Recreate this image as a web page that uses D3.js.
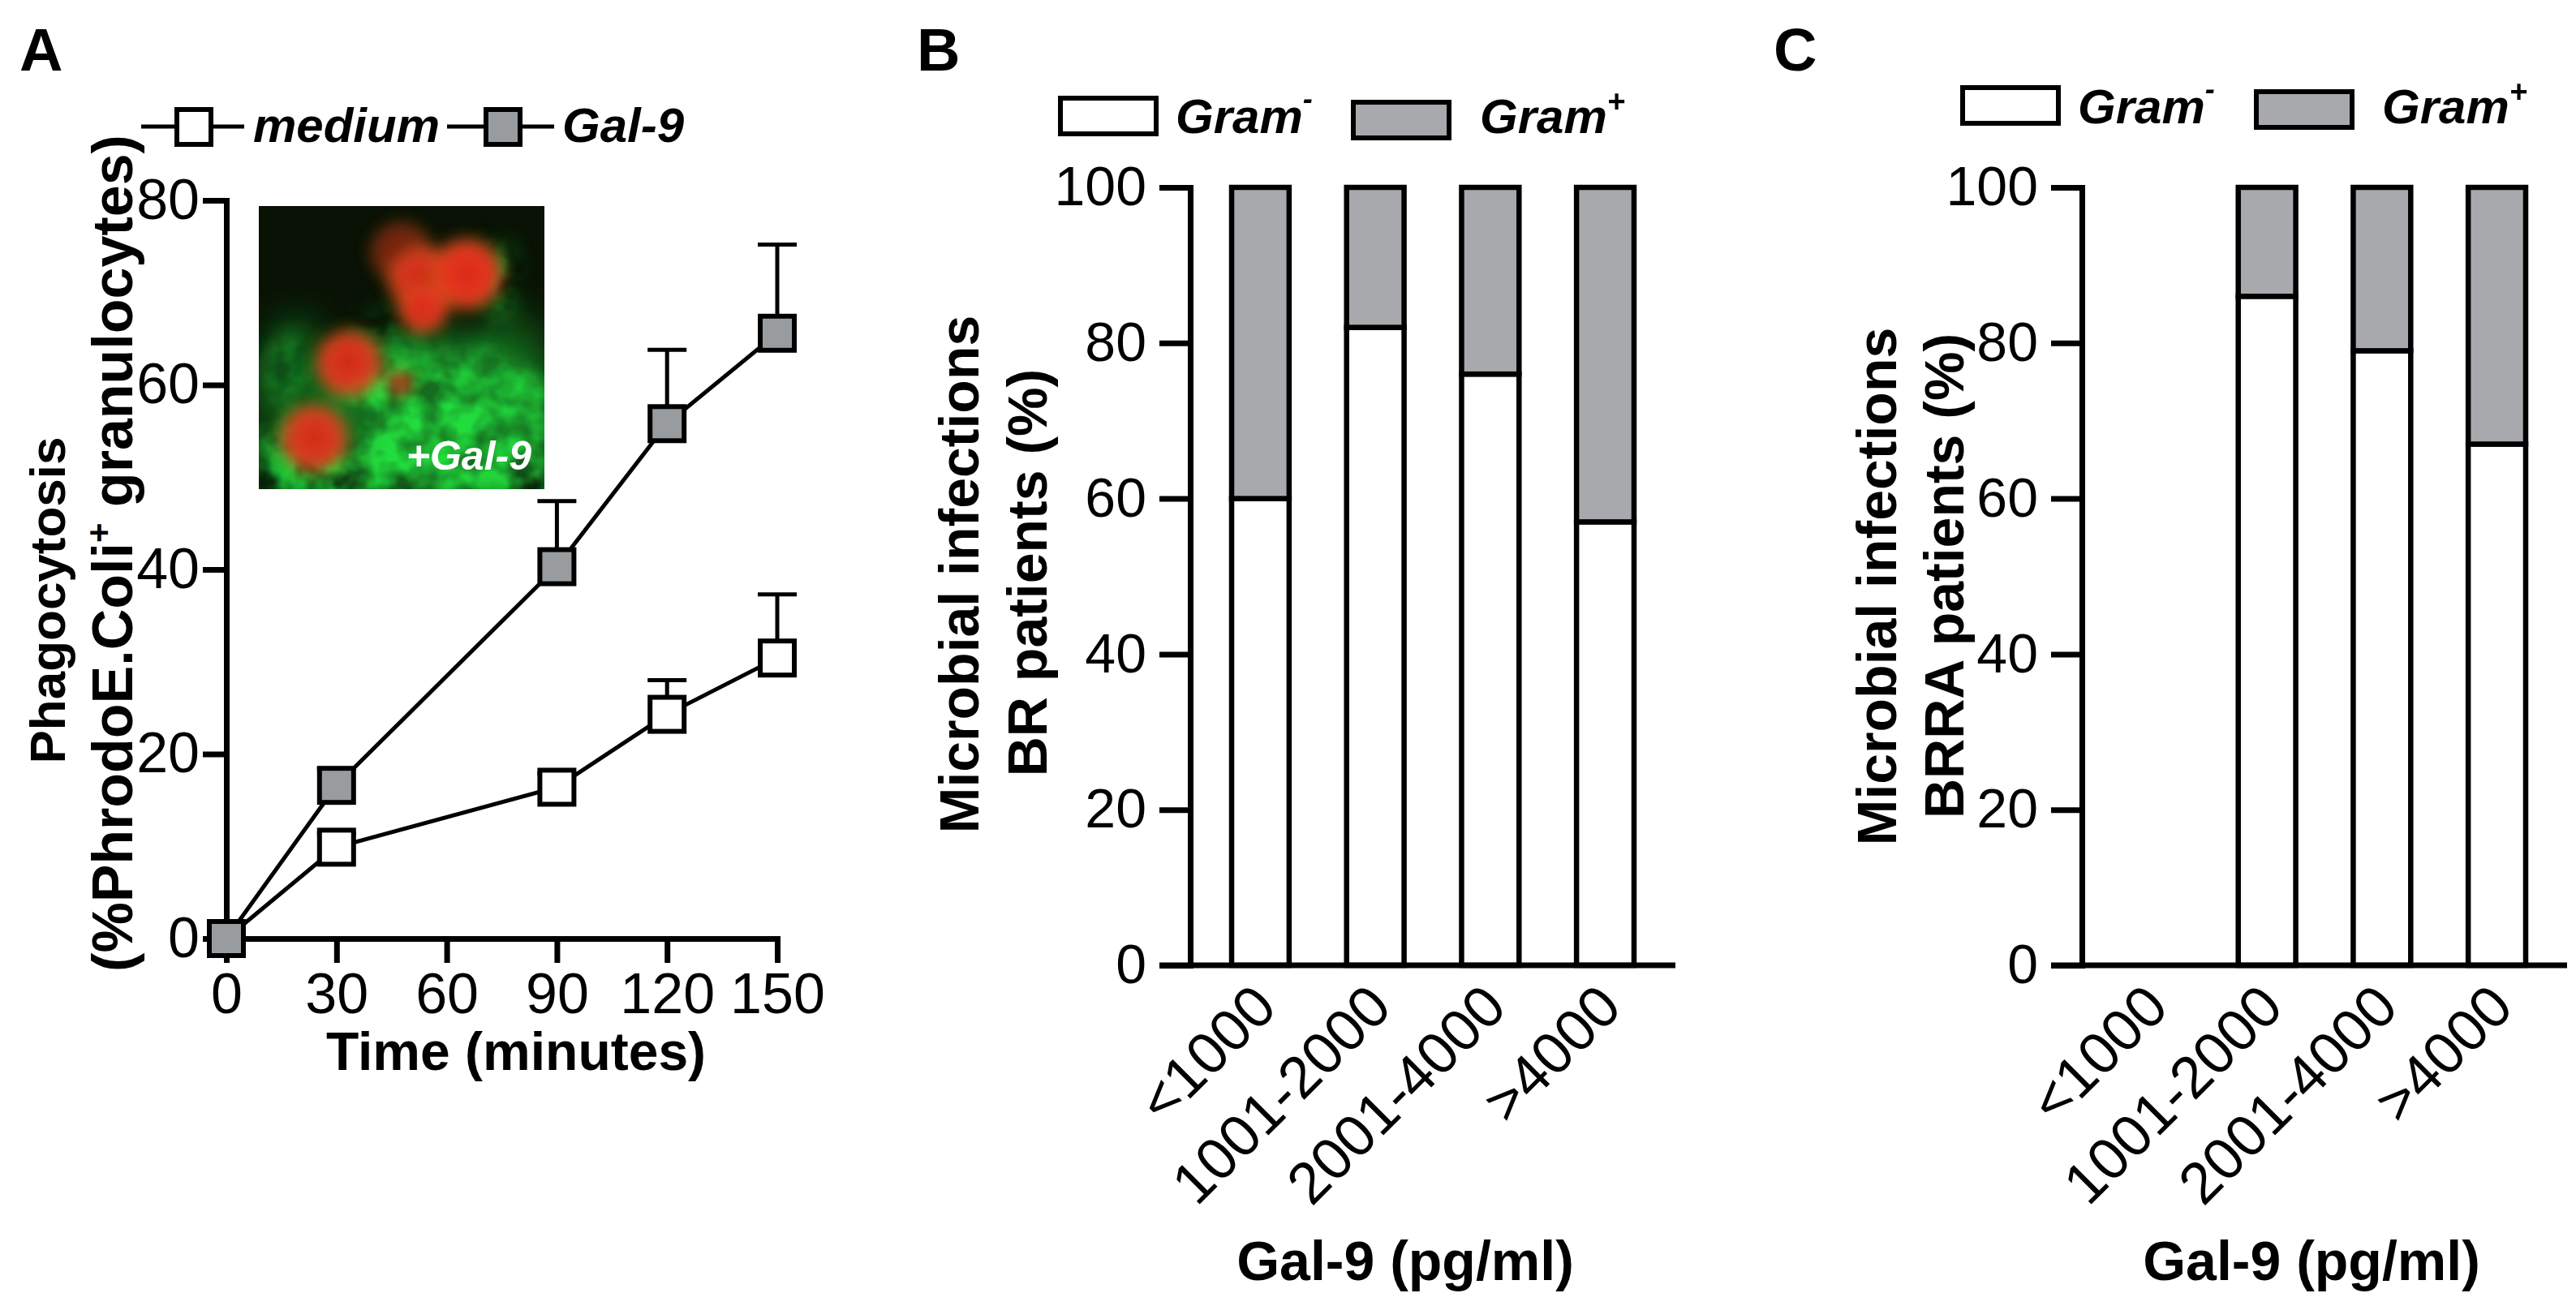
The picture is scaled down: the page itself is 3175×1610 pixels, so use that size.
<!DOCTYPE html>
<html>
<head>
<meta charset="utf-8">
<script src="https://cdn.jsdelivr.net/npm/d3@7"></script>
<style>
  html, body { margin: 0; padding: 0; background: #ffffff; }
  svg { display: block; }
</style>
</head>
<body>
<script>
// ---------------- DATA ----------------
const timePoints   = [0, 30, 90, 120, 150];
const timeTicks    = [0, 30, 60, 90, 120, 150];
const phagoTicks   = [0, 20, 40, 60, 80];
const mediumMean   = [0, 9.9, 16.4, 24.3, 30.4];
const mediumSem    = [0, 1.5, 1.5, 3.7, 6.9];
const gal9Mean     = [0, 16.6, 40.3, 55.8, 65.6];
const gal9Sem      = [0, 1.8, 7.1, 8.0, 9.6];

const gal9Groups   = ["<1000", "1001-2000", "2001-4000", ">4000"];
const pctTicks     = [0, 20, 40, 60, 80, 100];
const brGramNeg    = [60, 82, 76, 57];
const brGramPos    = [40, 18, 24, 43];
const brraGramNeg  = [0, 86, 79, 67];
const brraGramPos  = [0, 14, 21, 33];

// ---------------- SETUP ----------------
const FONT = "'Liberation Sans', Arial, Helvetica, sans-serif";
const GRAY_BAR = "#a7a9ac";
const GRAY_MARK = "#999c9f";
const W = 3175, H = 1610;

const svg = d3.select("body").append("svg")
  .attr("width", W).attr("height", H)
  .attr("viewBox", `0 0 ${W} ${H}`);
svg.append("rect").attr("width", W).attr("height", H).attr("fill", "#fff");

function styleAxis(g, fs) {
  g.select(".domain").attr("stroke", "#000").attr("stroke-width", 7).attr("stroke-linecap", "square");
  g.selectAll(".tick line").attr("stroke", "#000").attr("stroke-width", 7);
  g.selectAll(".tick text").attr("font-family", FONT).attr("font-size", fs).attr("fill", "#000");
}

function panelLabel(txt, x) {
  svg.append("text").attr("x", x).attr("y", 87)
    .attr("font-family", FONT).attr("font-weight", "bold").attr("font-size", 74)
    .text(txt);
}

// ---------------- PANEL A ----------------
panelLabel("A", 24);

const xA = d3.scaleLinear().domain([0, 150]).range([279, 958]);
const yA = d3.scaleLinear().domain([0, 80]).range([1157, 247]);

// inset micrograph (decorative)
const defs = svg.append("defs");
const IX = 319, IY = 254, IW = 352, IH = 349;
defs.append("clipPath").attr("id", "insetClip")
  .append("rect").attr("x", IX).attr("y", IY).attr("width", IW).attr("height", IH);

function region(f) {
  return f.attr("filterUnits", "userSpaceOnUse").attr("x", IX - 40).attr("y", IY - 40)
    .attr("width", IW + 80).attr("height", IH + 80);
}
const softBlur = region(defs.append("filter").attr("id", "softBlur"));
softBlur.append("feGaussianBlur").attr("stdDeviation", 22);

const mottle = region(defs.append("filter").attr("id", "mottle"));
mottle.append("feTurbulence").attr("type", "fractalNoise").attr("baseFrequency", 0.024)
  .attr("numOctaves", 3).attr("seed", 11).attr("result", "noise");
mottle.append("feColorMatrix").attr("in", "noise").attr("type", "matrix")
  .attr("values", "0 0 0 0 0  0 0 0 0 0  0 0 0 0 0  2.2 0 0 0 -0.55").attr("result", "mask");
mottle.append("feGaussianBlur").attr("in", "SourceGraphic").attr("stdDeviation", 16).attr("result", "blur");
mottle.append("feComposite").attr("in", "blur").attr("in2", "mask").attr("operator", "in");

const redBlur = region(defs.append("filter").attr("id", "redBlur"));
redBlur.append("feGaussianBlur").attr("stdDeviation", 9);

const rg = defs.append("radialGradient").attr("id", "redGrad");
rg.append("stop").attr("offset", "0%").attr("stop-color", "#d42818");
rg.append("stop").attr("offset", "60%").attr("stop-color", "#e8361c");
rg.append("stop").attr("offset", "85%").attr("stop-color", "#d84a1c").attr("stop-opacity", 0.85);
rg.append("stop").attr("offset", "100%").attr("stop-color", "#9a7a10").attr("stop-opacity", 0);

const inset = svg.append("g").attr("clip-path", "url(#insetClip)");
inset.append("rect").attr("x", IX).attr("y", IY).attr("width", IW).attr("height", IH).attr("fill", "#091205");
// soft green glow
const softGreen = [
  [545, 515, 150, 105, 0.55], [365, 490, 50, 100, 0.4], [635, 445, 45, 65, 0.3]
];
inset.append("g").attr("filter", "url(#softBlur)")
  .selectAll("ellipse").data(softGreen).join("ellipse")
  .attr("cx", d => d[0]).attr("cy", d => d[1]).attr("rx", d => d[2]).attr("ry", d => d[3])
  .attr("fill", "#1fb833").attr("opacity", d => d[4]);
// mottled bright green
const greenShapes = [
  [565, 525, 120, 90, 1], [490, 485, 65, 45, 1], [450, 590, 110, 38, 1],
  [612, 345, 14, 48, 0.9], [350, 565, 32, 50, 0.8], [648, 578, 38, 45, 1],
  [475, 410, 45, 20, 0.6], [352, 455, 22, 40, 0.55]
];
inset.append("g").attr("filter", "url(#mottle)")
  .selectAll("ellipse").data(greenShapes).join("ellipse")
  .attr("cx", d => d[0]).attr("cy", d => d[1]).attr("rx", d => d[2]).attr("ry", d => d[3])
  .attr("fill", "#22dc3e").attr("opacity", d => d[4]);
// red cells
const redShapes = [
  [495, 312, 42, 0.5], [520, 345, 46, 0.9], [575, 338, 48, 1], [522, 380, 34, 0.95],
  [430, 448, 45, 0.95], [493, 472, 17, 0.8], [387, 540, 46, 0.95]
];
inset.append("g").attr("filter", "url(#redBlur)")
  .selectAll("circle").data(redShapes).join("circle")
  .attr("cx", d => d[0]).attr("cy", d => d[1]).attr("r", d => d[2])
  .attr("fill", "url(#redGrad)").attr("opacity", d => d[3]);
svg.append("text").attr("x", 655).attr("y", 579).attr("text-anchor", "end")
  .attr("font-family", FONT).attr("font-weight", "bold").attr("font-style", "italic")
  .attr("font-size", 50).attr("fill", "#fff").text("+Gal-9");

// axes A
const gyA = svg.append("g").attr("transform", `translate(${xA(0)},0)`)
  .call(d3.axisLeft(yA).tickValues(phagoTicks).tickSize(29).tickSizeOuter(0).tickPadding(4));
styleAxis(gyA, 70);
const gxA = svg.append("g").attr("transform", `translate(0,${yA(0)})`)
  .call(d3.axisBottom(xA).tickValues(timeTicks).tickSize(30).tickSizeOuter(0).tickPadding(12));
styleAxis(gxA, 70);

// titles A
svg.append("text").attr("transform", `translate(${xA(0) + 357},1319)`).attr("text-anchor", "middle")
  .attr("font-family", FONT).attr("font-weight", "bold").attr("font-size", 66).text("Time (minutes)");
svg.append("text").attr("transform", "translate(80,740) rotate(-90)").attr("text-anchor", "middle")
  .attr("font-family", FONT).attr("font-weight", "bold").attr("font-size", 62).text("Phagocytosis");
const t2 = svg.append("text").attr("transform", "translate(163,682) rotate(-90)").attr("text-anchor", "middle")
  .attr("font-family", FONT).attr("font-weight", "bold").attr("font-size", 70);
t2.append("tspan").text("(%PhrodoE.Coli");
t2.append("tspan").attr("font-size", 42).attr("dy", -27).text("+");
t2.append("tspan").attr("dy", 27).text(" granulocytes)");

// series
const lineA = d3.line().x((d, i) => xA(timePoints[i])).y(d => yA(d));
const series = [
  { mean: mediumMean, sem: mediumSem, fill: "#ffffff" },
  { mean: gal9Mean, sem: gal9Sem, fill: GRAY_MARK }
];
series.forEach(s => {
  svg.append("path").attr("d", lineA(s.mean)).attr("fill", "none")
    .attr("stroke", "#000").attr("stroke-width", 5);
});
series.forEach(s => {
  const eb = svg.append("g");
  timePoints.forEach((t, i) => {
    if (!s.sem[i]) return;
    const x = xA(t), y0 = yA(s.mean[i]), y1 = yA(s.mean[i] + s.sem[i]);
    eb.append("line").attr("x1", x).attr("x2", x).attr("y1", y0).attr("y2", y1)
      .attr("stroke", "#000").attr("stroke-width", 5);
    eb.append("line").attr("x1", x - 24).attr("x2", x + 24).attr("y1", y1).attr("y2", y1)
      .attr("stroke", "#000").attr("stroke-width", 5);
  });
});
series.forEach(s => {
  svg.append("g").selectAll("rect").data(s.mean).join("rect")
    .attr("x", (d, i) => xA(timePoints[i]) - 21).attr("y", d => yA(d) - 21)
    .attr("width", 42).attr("height", 42)
    .attr("fill", s.fill).attr("stroke", "#000").attr("stroke-width", 6);
});

// legend A
const legA = svg.append("g");
[[174, 215], [263, 301], [551, 596], [644, 683]].forEach(seg => {
  legA.append("line").attr("x1", seg[0]).attr("x2", seg[1]).attr("y1", 156).attr("y2", 156)
    .attr("stroke", "#000").attr("stroke-width", 5);
});
legA.append("rect").attr("x", 218).attr("y", 135).attr("width", 42).attr("height", 43)
  .attr("fill", "#fff").attr("stroke", "#000").attr("stroke-width", 6);
legA.append("rect").attr("x", 599).attr("y", 135).attr("width", 42).attr("height", 43)
  .attr("fill", GRAY_MARK).attr("stroke", "#000").attr("stroke-width", 6);
legA.append("text").attr("x", 312).attr("y", 175).attr("font-family", FONT).attr("font-weight", "bold")
  .attr("font-style", "italic").attr("font-size", 60).text("medium");
legA.append("text").attr("x", 693).attr("y", 175).attr("font-family", FONT).attr("font-weight", "bold")
  .attr("font-style", "italic").attr("font-size", 60).text("Gal-9");

// ---------------- PANELS B & C ----------------
function barPanel(cfg) {
  panelLabel(cfg.label, cfg.labelX);
  const y = d3.scaleLinear().domain([0, 100]).range([1190, 231]);
  const x = d3.scaleBand().domain(gal9Groups).range([cfg.axisX, cfg.axisX + 598])
    .paddingInner(0.5).paddingOuter(0.36);
  const tick = 38;

  // bars
  const rows = gal9Groups.map((g, i) => ({ g, neg: cfg.neg[i], pos: cfg.pos[i] }))
    .filter(d => d.neg + d.pos > 0);
  const bars = svg.append("g");
  bars.selectAll("rect.neg").data(rows).join("rect").attr("class", "neg")
    .attr("x", d => x(d.g)).attr("width", x.bandwidth())
    .attr("y", d => y(d.neg)).attr("height", d => y(0) - y(d.neg))
    .attr("fill", "#fff").attr("stroke", "#000").attr("stroke-width", 6.5);
  bars.selectAll("rect.pos").data(rows).join("rect").attr("class", "pos")
    .attr("x", d => x(d.g)).attr("width", x.bandwidth())
    .attr("y", d => y(d.neg + d.pos)).attr("height", d => y(d.neg) - y(d.neg + d.pos))
    .attr("fill", GRAY_BAR).attr("stroke", "#000").attr("stroke-width", 6.5);

  // y axis
  const gy = svg.append("g").attr("transform", `translate(${cfg.axisX},0)`)
    .call(d3.axisLeft(y).tickValues(pctTicks).tickSize(tick).tickSizeOuter(0).tickPadding(16));
  styleAxis(gy, 68);
  // x axis baseline
  svg.append("line").attr("x1", cfg.axisX - tick).attr("x2", x.range()[1])
    .attr("y1", y(0)).attr("y2", y(0)).attr("stroke", "#000").attr("stroke-width", 7);
  // x labels
  svg.append("g").selectAll("text").data(gal9Groups).join("text")
    .attr("transform", d => `translate(${x(d) + x.bandwidth() / 2 + 23},${y(0) + 55}) rotate(-45)`)
    .attr("text-anchor", "end").attr("font-family", FONT).attr("font-size", 72).text(d => d);

  // titles
  svg.append("text").attr("x", cfg.xTitleX).attr("y", 1578).attr("text-anchor", "middle")
    .attr("font-family", FONT).attr("font-weight", "bold").attr("font-size", 68).text("Gal-9 (pg/ml)");
  svg.append("text").attr("transform", `translate(${cfg.yT1[0]},${cfg.yT1[1]}) rotate(-90)`)
    .attr("text-anchor", "middle").attr("font-family", FONT).attr("font-weight", "bold")
    .attr("font-size", 68).text("Microbial infections");
  svg.append("text").attr("transform", `translate(${cfg.yT2[0]},${cfg.yT2[1]}) rotate(-90)`)
    .attr("text-anchor", "middle").attr("font-family", FONT).attr("font-weight", "bold")
    .attr("font-size", 68).text(cfg.yTitle2);

  // legend
  const L = cfg.legend;
  svg.append("rect").attr("x", L.wx).attr("y", L.wy).attr("width", 118).attr("height", 44)
    .attr("fill", "#fff").attr("stroke", "#000").attr("stroke-width", 6);
  svg.append("rect").attr("x", L.gx).attr("y", L.gy).attr("width", 118).attr("height", 44)
    .attr("fill", GRAY_BAR).attr("stroke", "#000").attr("stroke-width", 6);
  const tn = svg.append("text").attr("x", L.tnx).attr("y", L.ty).attr("font-family", FONT)
    .attr("font-weight", "bold").attr("font-style", "italic").attr("font-size", 60);
  tn.append("tspan").text("Gram");
  tn.append("tspan").attr("font-size", 36).attr("dy", -30).text("-");
  const tp = svg.append("text").attr("x", L.tpx).attr("y", L.ty).attr("font-family", FONT)
    .attr("font-weight", "bold").attr("font-style", "italic").attr("font-size", 60);
  tp.append("tspan").text("Gram");
  tp.append("tspan").attr("font-size", 38).attr("dy", -26).text("+");
}

barPanel({
  label: "B", labelX: 1130, axisX: 1467,
  neg: brGramNeg, pos: brGramPos,
  xTitleX: 1732, yTitle2: "BR patients (%)",
  yT1: [1206, 708], yT2: [1290, 706],
  legend: { wx: 1307, wy: 121, gx: 1668, gy: 126, tnx: 1449, tpx: 1824, ty: 164 }
});
barPanel({
  label: "C", labelX: 2186, axisX: 2566,
  neg: brraGramNeg, pos: brraGramPos,
  xTitleX: 2849, yTitle2: "BRRA patients (%)",
  yT1: [2337, 723], yT2: [2420, 710],
  legend: { wx: 2419, wy: 108, gx: 2781, gy: 113, tnx: 2561, tpx: 2936, ty: 152 }
});
</script>
</body>
</html>
